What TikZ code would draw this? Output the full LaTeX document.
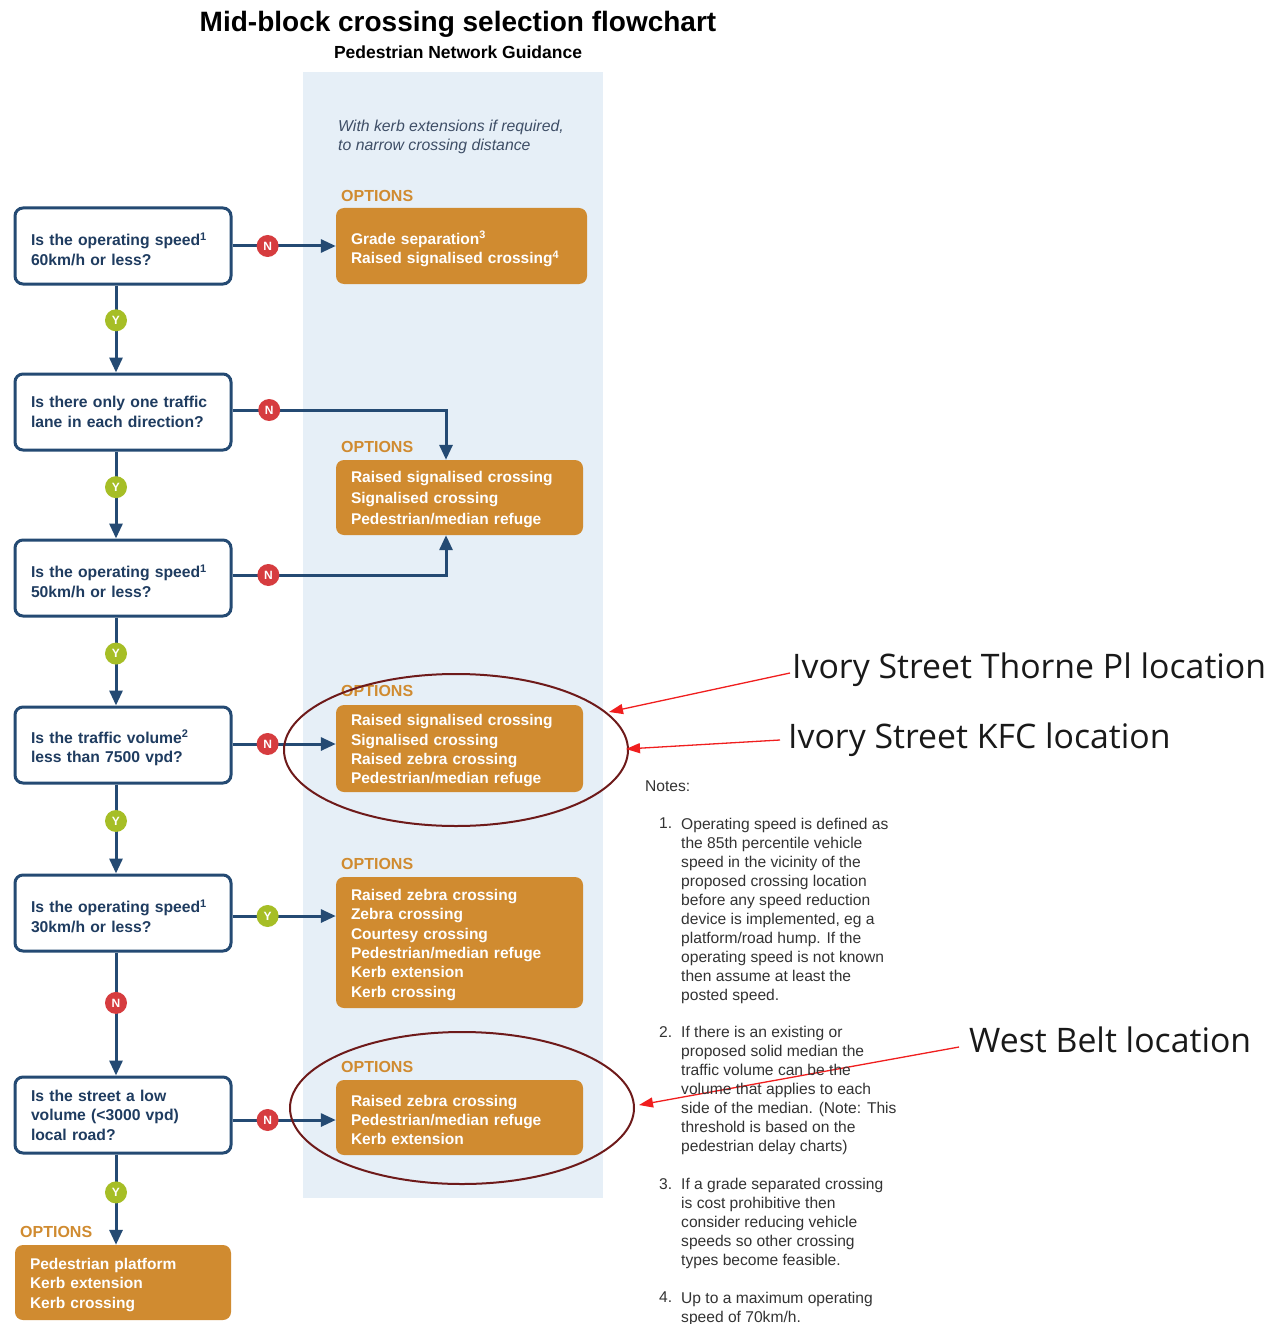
\documentclass[tikz,border=0pt]{standalone}
\usepackage{fontspec}
\setmainfont{Liberation Sans}
\newfontfamily\annotfont{Open Sans}
\usetikzlibrary{arrows.meta,calc}
\definecolor{navy}{HTML}{244A73}
\definecolor{qtext}{HTML}{1F3C60}
\definecolor{orng}{HTML}{D08B30}
\definecolor{panel}{HTML}{E6EFF7}
\definecolor{bred}{HTML}{D63C3F}
\definecolor{bgreen}{HTML}{A6BE26}
\definecolor{ellcol}{HTML}{6E1A1A}
\definecolor{annred}{HTML}{F01E1E}
\definecolor{notegray}{HTML}{333333}
\definecolor{italcol}{HTML}{3E4E66}
\newcommand{\supstrut}{\rule{0pt}{19pt}}
\begin{document}
\begin{tikzpicture}[x=1pt,y=-1pt,
  qbox/.style={draw=navy, line width=3, rounded corners=8, fill=white,
    minimum width=216, minimum height=76, inner xsep=16, text width=184,
    align=left, text=qtext, font=\fontsize{15.7}{19.4}\selectfont\bfseries},
  obox/.style={fill=orng, rounded corners=8, text=white, inner xsep=15,
    align=left, font=\fontsize{15.5}{19.4}\selectfont\bfseries,
    execute at begin node={\rule{0pt}{16pt}}},
  optlabel/.style={anchor=west, inner sep=0, text=orng, font=\fontsize{16}{16}\selectfont\bfseries},
  conn/.style={draw=navy, line width=3, -{Triangle[length=15pt,width=13pt]}},
  badge/.style={circle, minimum size=22, inner sep=0, text=white, font=\fontsize{12}{12}\selectfont\bfseries},
  badgeN/.style={badge, fill=bred},
  badgeY/.style={badge, fill=bgreen},
  redarr/.style={draw=annred, line width=1.3, -{Triangle[length=14pt,width=10pt]}},
  annot/.style={anchor=west, inner sep=2, font=\annotfont\fontsize{33.8}{34}\selectfont, text=black!90},
  notetext/.style={anchor=north west, inner sep=0, align=left, text=notegray, font=\fontsize{15.6}{19}\selectfont}
]
\useasboundingbox[fill=white] (0,0) rectangle (1286,1324);

% title
\node[font=\fontsize{28}{28}\selectfont\bfseries] (title) at (458,24) {Mid-block crossing selection flowchart};
\node[font=\fontsize{17.5}{17.5}\selectfont\bfseries] (subtitle) at (458,52) {Pedestrian Network Guidance};

% panel
\fill[panel] (303,72) rectangle (603,1198);
\node[anchor=west, inner sep=0, align=left, text=italcol, font=\fontsize{15.8}{19}\selectfont\itshape] (ital) at (338,136.5)
  {With kerb extensions if required,\\to narrow crossing distance};

% question boxes
\node[qbox] (Q1) at (123,246) {\supstrut Is the operating speed\textsuperscript{1}\\60km/h or less?};
\node[qbox] (Q2) at (123,412) {Is there only one traffic\\lane in each direction?};
\node[qbox] (Q3) at (123,578) {\supstrut Is the operating speed\textsuperscript{1}\\50km/h or less?};
\node[qbox] (Q4) at (123,745) {\supstrut Is the traffic volume\textsuperscript{2}\\less than 7500 vpd?};
\node[qbox] (Q5) at (123,913) {\supstrut Is the operating speed\textsuperscript{1}\\30km/h or less?};
\node[qbox] (Q6) at (123,1115) {Is the street a low\\volume (<3000 vpd)\\local road?};

% option boxes
\node[obox, minimum width=251, minimum height=76, text width=221] (O1) at (461.5,246)
  {\supstrut Grade separation\textsuperscript{3}\\Raised signalised crossing\textsuperscript{4}};
\node[obox, minimum width=247, minimum height=75, text width=217, font=\fontsize{15.5}{21}\selectfont\bfseries] (O2) at (459.5,497.5)
  {Raised signalised crossing\\Signalised crossing\\Pedestrian/median refuge};
\node[obox, minimum width=247, minimum height=87, text width=217] (O3) at (459.5,748.5)
  {Raised signalised crossing\\Signalised crossing\\Raised zebra crossing\\Pedestrian/median refuge};
\node[obox, minimum width=247, minimum height=131, text width=217] (O4) at (459.5,942.5)
  {Raised zebra crossing\\Zebra crossing\\Courtesy crossing\\Pedestrian/median refuge\\Kerb extension\\Kerb crossing};
\node[obox, minimum width=247, minimum height=75, text width=217] (O5) at (459.5,1117.5)
  {Raised zebra crossing\\Pedestrian/median refuge\\Kerb extension};
\node[obox, minimum width=216, minimum height=75, text width=186] (O6) at (123,1282.5)
  {Pedestrian platform\\Kerb extension\\Kerb crossing};

% OPTIONS labels
\node[optlabel] (L1) at (341,196) {OPTIONS};
\node[optlabel] (L2) at (341,447) {OPTIONS};
\node[optlabel] (L3) at (341,691) {OPTIONS};
\node[optlabel] (L4) at (341,864) {OPTIONS};
\node[optlabel] (L5) at (341,1067) {OPTIONS};
\node[optlabel] (L6) at (20,1232) {OPTIONS};

% vertical connectors
\draw[conn] ([xshift=-7]Q1.south) -- node[badgeY, pos=0.4] (y1) {Y} ([xshift=-7]Q2.north);
\draw[conn] ([xshift=-7]Q2.south) -- node[badgeY, pos=0.41] (y2) {Y} ([xshift=-7]Q3.north);
\draw[conn] ([xshift=-7]Q3.south) -- node[badgeY, pos=0.41] (y3) {Y} ([xshift=-7]Q4.north);
\draw[conn] ([xshift=-7]Q4.south) -- node[badgeY, pos=0.41] (y4) {Y} ([xshift=-7]Q5.north);
\draw[conn] ([xshift=-7]Q5.south) -- node[badgeN, pos=0.41] (n5) {N} ([xshift=-7]Q6.north);
\draw[conn] ([xshift=-7]Q6.south) -- node[badgeY, pos=0.42] (y6) {Y} ([xshift=-7]O6.north);

% horizontal connectors
\draw[conn] (Q1.east) -- node[badgeN, pos=0.34] (n1) {N} (O1.west);
\draw[conn] ([yshift=2]Q2.east) -| node[badgeN, pos=0.086] (n2) {N} ($(O2.north)+(-13.5,0)$);
\draw[conn] ([yshift=3]Q3.east) -| node[badgeN, pos=0.084] (n3) {N} ($(O2.south)+(-13.5,0)$);
\draw[conn] ([yshift=1]Q4.east) -- node[badgeN, pos=0.34] (n4) {N} ([yshift=1]Q4.east -| O3.west);
\draw[conn] ([yshift=-3]Q5.east) -- node[badgeY, pos=0.34] (y5) {Y} ([yshift=-3]Q5.east -| O4.west);
\draw[conn] ([yshift=-5]Q6.east) -- node[badgeN, pos=0.34] (n6) {N} ([yshift=-5]Q6.east -| O5.west);

% highlight ellipses
\draw[ellcol, line width=2] (456,750) ellipse [x radius=172, y radius=76];
\draw[ellcol, line width=2] (462,1108) ellipse [x radius=172, y radius=76];

% annotations
\node[annot] (A1) at (790,670) {Ivory Street Thorne Pl location};
\node[annot] (A2) at (786,740) {Ivory Street KFC location};
\node[annot] (A3) at (967,1040) {West Belt location};
\coordinate (E1) at (609,712);
\coordinate (E2) at (626,749);
\coordinate (E3) at (639,1105);
\draw[redarr] ([yshift=-3]A1.west) -- (E1);
\draw[redarr] ([xshift=-6]A2.west) -- (E2);
\draw[redarr] ([yshift=-7,xshift=-8]A3.west) -- (E3);

% notes
\node[notetext, anchor=west] (notes) at (645,786) {Notes:};
\node[notetext] (n1num) at (659,818) {1.};
\node[notetext] (n1txt) at (681,818) {Operating speed is defined as\\the 85th percentile vehicle\\speed in the vicinity of the\\proposed crossing location\\before any speed reduction\\device is implemented, eg a\\platform/road hump. If the\\operating speed is not known\\then assume at least the\\posted speed.};
\node[notetext] (n2num) at (659,1026) {2.};
\node[notetext] (n2txt) at (681,1026) {If there is an existing or\\proposed solid median the\\traffic volume can be the\\volume that applies to each\\side of the median. (Note: This\\threshold is based on the\\pedestrian delay charts)};
\node[notetext] (n3num) at (659,1178) {3.};
\node[notetext] (n3txt) at (681,1178) {If a grade separated crossing\\is cost prohibitive then\\consider reducing vehicle\\speeds so other crossing\\types become feasible.};
\node[notetext] (n4num) at (659,1292) {4.};
\node[notetext] (n4txt) at (681,1292) {Up to a maximum operating\\speed of 70km/h.};
\end{tikzpicture}
\end{document}
